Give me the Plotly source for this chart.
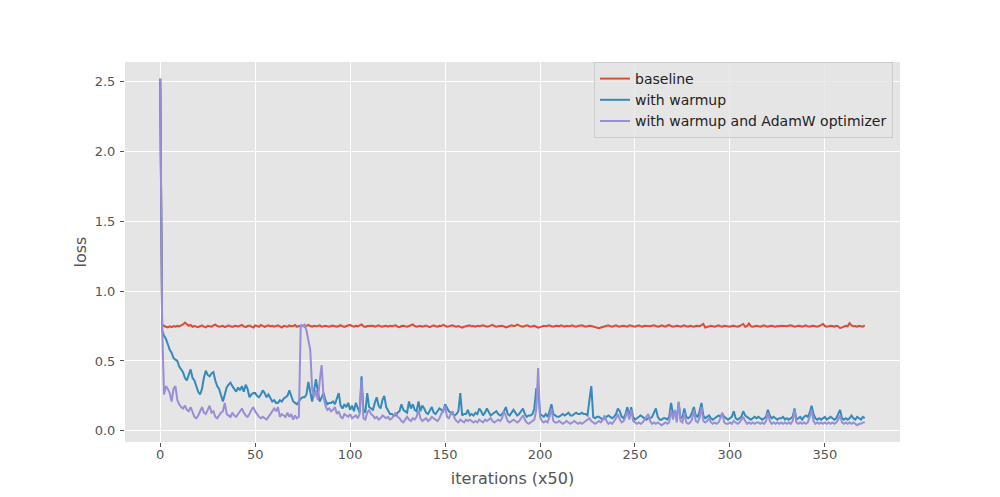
import plotly.graph_objects as go

# loss per logged step (one point every 50 iterations)
baseline = [
    2.52, 0.76, 0.75, 0.745, 0.74, 0.748, 0.742, 0.75, 0.745, 0.752,
    0.748, 0.755, 0.762, 0.775, 0.76, 0.752, 0.758, 0.745, 0.75, 0.748,
    0.742, 0.75, 0.755, 0.746, 0.74, 0.752, 0.748, 0.745, 0.755, 0.76,
    0.75, 0.745, 0.748, 0.752, 0.742, 0.75, 0.755, 0.748, 0.744, 0.75,
    0.752, 0.746, 0.75, 0.758, 0.748, 0.742, 0.75, 0.754, 0.746, 0.74,
    0.755, 0.75, 0.745, 0.758, 0.75, 0.744, 0.75, 0.755, 0.748, 0.752,
    0.745, 0.75, 0.755, 0.748, 0.74, 0.752, 0.75, 0.745, 0.755, 0.748,
    0.75, 0.757, 0.745, 0.75, 0.748, 0.752, 0.744, 0.75, 0.758, 0.75,
    0.745, 0.752, 0.748, 0.75, 0.755, 0.745, 0.75, 0.752, 0.748, 0.745,
    0.75, 0.754, 0.748, 0.745, 0.75, 0.756, 0.748, 0.744, 0.75, 0.752,
    0.758, 0.75, 0.745, 0.752, 0.748, 0.755, 0.762, 0.748, 0.744, 0.75,
    0.75, 0.748, 0.752, 0.745, 0.75, 0.755, 0.748, 0.745, 0.75, 0.752,
    0.745, 0.752, 0.748, 0.75, 0.755, 0.746, 0.742, 0.75, 0.752, 0.748,
    0.745, 0.75, 0.756, 0.762, 0.75, 0.745, 0.748, 0.752, 0.745, 0.75,
    0.754, 0.748, 0.742, 0.75, 0.755, 0.748, 0.745, 0.752, 0.75, 0.758,
    0.75, 0.745, 0.748, 0.752, 0.756, 0.748, 0.745, 0.75, 0.742, 0.738,
    0.745, 0.75, 0.752, 0.755, 0.748, 0.75, 0.745, 0.752, 0.748, 0.75,
    0.755, 0.75, 0.745, 0.748, 0.752, 0.758, 0.75, 0.745, 0.748, 0.75,
    0.752, 0.748, 0.74, 0.745, 0.75, 0.755, 0.75, 0.752, 0.76, 0.752,
    0.748, 0.745, 0.75, 0.756, 0.75, 0.745, 0.748, 0.752, 0.745, 0.738,
    0.742, 0.75, 0.752, 0.748, 0.75, 0.755, 0.748, 0.745, 0.75, 0.752,
    0.748, 0.755, 0.75, 0.745, 0.752, 0.748, 0.75, 0.755, 0.748, 0.745,
    0.75, 0.752, 0.756, 0.75, 0.745, 0.748, 0.752, 0.75, 0.745, 0.742,
    0.738, 0.735, 0.74, 0.745, 0.75, 0.752, 0.755, 0.748, 0.745, 0.75,
    0.755, 0.748, 0.745, 0.75, 0.752, 0.748, 0.745, 0.755, 0.75, 0.748,
    0.745, 0.75, 0.755, 0.748, 0.745, 0.752, 0.75, 0.745, 0.748, 0.752,
    0.755, 0.75, 0.745, 0.748, 0.755, 0.75, 0.745, 0.752, 0.758, 0.75,
    0.745, 0.748, 0.752, 0.75, 0.745, 0.75, 0.755, 0.748, 0.745, 0.752,
    0.748, 0.745, 0.75, 0.752, 0.748, 0.755, 0.765, 0.74, 0.745, 0.75,
    0.752, 0.748, 0.745, 0.75, 0.755, 0.748, 0.745, 0.752, 0.75, 0.748,
    0.745, 0.75, 0.752, 0.748, 0.745, 0.75, 0.755, 0.765, 0.745, 0.75,
    0.768, 0.748, 0.745, 0.75, 0.752, 0.748, 0.745, 0.75, 0.755, 0.748,
    0.745, 0.75, 0.752, 0.748, 0.745, 0.75, 0.748, 0.752, 0.75, 0.745,
    0.748, 0.752, 0.755, 0.75, 0.745, 0.748, 0.752, 0.75, 0.745, 0.75,
    0.755, 0.748, 0.745, 0.75, 0.752, 0.748, 0.745, 0.75, 0.755, 0.765,
    0.75, 0.745, 0.748, 0.752, 0.75, 0.745, 0.752, 0.748, 0.735, 0.742,
    0.75, 0.752, 0.748, 0.77, 0.755, 0.748, 0.75, 0.745, 0.752, 0.748,
    0.745, 0.755,
]

warmup = [
    2.52, 0.72, 0.68, 0.66, 0.62, 0.58, 0.56, 0.52, 0.51, 0.50,
    0.46, 0.44, 0.42, 0.38, 0.36, 0.40, 0.44, 0.38, 0.36, 0.32,
    0.28, 0.26, 0.30, 0.38, 0.43, 0.40, 0.39, 0.41, 0.42, 0.36,
    0.32, 0.30, 0.26, 0.21, 0.26, 0.31, 0.33, 0.345, 0.32, 0.30,
    0.28, 0.31, 0.29, 0.32, 0.28, 0.33, 0.30, 0.24, 0.26, 0.27,
    0.27, 0.25, 0.24, 0.26, 0.29, 0.27, 0.24, 0.26, 0.23, 0.21,
    0.22, 0.20, 0.20, 0.22, 0.21, 0.23, 0.24, 0.25, 0.29, 0.24,
    0.21, 0.20, 0.19, 0.21, 0.23, 0.24, 0.24, 0.26, 0.35, 0.28,
    0.21, 0.29, 0.37, 0.28, 0.21, 0.24, 0.27, 0.22, 0.19, 0.20,
    0.20, 0.21, 0.19, 0.23, 0.27, 0.18, 0.16, 0.19, 0.17, 0.20,
    0.15, 0.18, 0.14, 0.20, 0.16, 0.13, 0.39, 0.15, 0.13, 0.27,
    0.17, 0.16, 0.15, 0.20, 0.24, 0.18, 0.16, 0.22, 0.25, 0.17,
    0.14, 0.12, 0.12, 0.11, 0.11, 0.13, 0.14, 0.19, 0.15, 0.14,
    0.13, 0.21, 0.16, 0.19, 0.15, 0.14, 0.21, 0.14, 0.18, 0.16,
    0.13, 0.12, 0.15, 0.17, 0.13, 0.12, 0.14, 0.16, 0.15, 0.14,
    0.19, 0.16, 0.14, 0.13, 0.12, 0.11, 0.12, 0.14, 0.27, 0.11,
    0.12, 0.12, 0.15, 0.11, 0.12, 0.11, 0.13, 0.12, 0.16, 0.14,
    0.11, 0.13, 0.16, 0.13, 0.11, 0.12, 0.13, 0.14, 0.12, 0.11,
    0.12, 0.14, 0.17, 0.12, 0.11, 0.13, 0.15, 0.13, 0.11, 0.12,
    0.14, 0.16, 0.12, 0.10, 0.11, 0.11, 0.12, 0.16, 0.30, 0.30,
    0.12, 0.11, 0.10, 0.12, 0.10, 0.14, 0.19, 0.12, 0.11, 0.10,
    0.10, 0.11, 0.12, 0.11, 0.12, 0.13, 0.11, 0.11, 0.12, 0.13,
    0.12, 0.12, 0.13, 0.12, 0.12, 0.11, 0.22, 0.32, 0.10, 0.09,
    0.10, 0.10, 0.09, 0.08, 0.09, 0.10, 0.11, 0.10, 0.09, 0.10,
    0.12, 0.16, 0.14, 0.10, 0.09, 0.12, 0.17, 0.10, 0.17, 0.10,
    0.08, 0.09, 0.10, 0.11, 0.10, 0.09, 0.08, 0.09, 0.09, 0.10,
    0.13, 0.16, 0.10, 0.08, 0.08, 0.09, 0.09, 0.08, 0.10, 0.20,
    0.12, 0.14, 0.09, 0.20, 0.09, 0.10, 0.16, 0.10, 0.09, 0.10,
    0.13, 0.17, 0.11, 0.10, 0.14, 0.20, 0.11, 0.09, 0.10, 0.11,
    0.09, 0.08, 0.09, 0.10, 0.11, 0.10, 0.12, 0.10, 0.09, 0.08,
    0.09, 0.10, 0.14, 0.09, 0.08, 0.09, 0.10, 0.14, 0.11, 0.10,
    0.09, 0.08, 0.09, 0.10, 0.09, 0.10, 0.09, 0.08, 0.09, 0.10,
    0.15, 0.11, 0.09, 0.10, 0.09, 0.08, 0.09, 0.09, 0.10, 0.08,
    0.09, 0.08, 0.09, 0.10, 0.16, 0.08, 0.09, 0.10, 0.08, 0.10,
    0.11, 0.10, 0.13, 0.18, 0.12, 0.09, 0.08, 0.09, 0.08, 0.09,
    0.10, 0.08, 0.09, 0.10, 0.09, 0.08, 0.09, 0.12, 0.15, 0.09,
    0.08, 0.09, 0.08, 0.09, 0.11, 0.09, 0.08, 0.10, 0.09, 0.08,
    0.10, 0.09,
]

warmup_adamw = [
    2.52, 0.75, 0.26, 0.32, 0.30, 0.27, 0.21, 0.30, 0.32, 0.22,
    0.19, 0.17, 0.16, 0.18, 0.15, 0.14, 0.17, 0.13, 0.10, 0.09,
    0.11, 0.14, 0.17, 0.13, 0.12, 0.15, 0.18, 0.13, 0.14, 0.10,
    0.09, 0.11, 0.13, 0.14, 0.20, 0.12, 0.11, 0.10, 0.13, 0.11,
    0.10, 0.12, 0.14, 0.16, 0.13, 0.11, 0.10, 0.12, 0.15, 0.17,
    0.14, 0.12, 0.10, 0.09, 0.10, 0.09, 0.08, 0.10, 0.12, 0.14,
    0.16, 0.14, 0.17, 0.10, 0.12, 0.11, 0.10, 0.13, 0.10, 0.12,
    0.08, 0.11, 0.09, 0.10, 0.76, 0.75, 0.76, 0.72, 0.66, 0.58,
    0.30, 0.24, 0.29, 0.22, 0.36, 0.47, 0.24, 0.18, 0.15, 0.16,
    0.14, 0.15, 0.17, 0.12, 0.14, 0.10, 0.09, 0.12, 0.11, 0.10,
    0.12, 0.09, 0.10, 0.11, 0.09, 0.12, 0.36, 0.09, 0.08, 0.13,
    0.15, 0.12, 0.11, 0.09, 0.10, 0.08, 0.09, 0.11, 0.10, 0.09,
    0.10, 0.08, 0.09, 0.11, 0.13, 0.10, 0.09, 0.07, 0.06, 0.08,
    0.10, 0.08, 0.07, 0.09, 0.08, 0.10, 0.15, 0.09, 0.07, 0.08,
    0.09, 0.07, 0.08, 0.10, 0.09, 0.08, 0.07, 0.09, 0.12, 0.15,
    0.18, 0.10, 0.09, 0.12, 0.14, 0.09, 0.07, 0.06, 0.08, 0.07,
    0.06, 0.08, 0.07, 0.08, 0.07, 0.06, 0.07, 0.06, 0.08, 0.07,
    0.06, 0.08, 0.07, 0.08, 0.09, 0.07, 0.06, 0.07, 0.08, 0.07,
    0.09, 0.14, 0.10, 0.07, 0.06, 0.07, 0.08, 0.07, 0.06, 0.07,
    0.09, 0.11, 0.08, 0.06, 0.05, 0.06, 0.07, 0.08, 0.15, 0.45,
    0.10, 0.07, 0.06, 0.07, 0.06, 0.10, 0.16, 0.07, 0.06, 0.06,
    0.07, 0.06, 0.05, 0.06, 0.07, 0.06, 0.05, 0.06, 0.07, 0.06,
    0.05, 0.06, 0.05, 0.06, 0.07, 0.08, 0.09, 0.07, 0.06, 0.05,
    0.06, 0.07, 0.06, 0.08, 0.11, 0.07, 0.05, 0.06, 0.05, 0.07,
    0.09, 0.12, 0.08, 0.06, 0.07, 0.10, 0.14, 0.08, 0.15, 0.07,
    0.06, 0.05, 0.06, 0.05, 0.06, 0.08, 0.10, 0.12, 0.07, 0.05,
    0.06, 0.05, 0.06, 0.05, 0.04, 0.05, 0.06, 0.05, 0.06, 0.15,
    0.08, 0.15, 0.06, 0.21, 0.07, 0.06, 0.13, 0.06, 0.05, 0.06,
    0.08, 0.15, 0.07, 0.06, 0.09, 0.17, 0.07, 0.06, 0.07, 0.09,
    0.06, 0.05, 0.06, 0.05, 0.06, 0.09, 0.13, 0.06, 0.05, 0.05,
    0.06, 0.05, 0.07, 0.06, 0.05, 0.06, 0.08, 0.10, 0.07, 0.05,
    0.06, 0.05, 0.06, 0.05, 0.06, 0.06, 0.05, 0.06, 0.05, 0.07,
    0.13, 0.07, 0.05, 0.06, 0.05, 0.06, 0.05, 0.06, 0.05, 0.06,
    0.05, 0.06, 0.05, 0.07, 0.15, 0.06, 0.05, 0.06, 0.05, 0.06,
    0.05, 0.06, 0.10, 0.15, 0.07, 0.05, 0.06, 0.05, 0.06, 0.05,
    0.06, 0.05, 0.06, 0.05, 0.06, 0.05, 0.06, 0.08, 0.11, 0.06,
    0.05, 0.06, 0.05, 0.06, 0.05, 0.06, 0.05, 0.04, 0.05, 0.05,
    0.06, 0.06,
]

steps = list(range(len(warmup)))

fig = go.Figure()
fig.add_trace(go.Scatter(x=steps, y=baseline, name='baseline', mode='lines',
                         line=dict(color='#E24A33', width=2)))
fig.add_trace(go.Scatter(x=steps, y=warmup, name='with warmup', mode='lines',
                         line=dict(color='#348ABD', width=2)))
fig.add_trace(go.Scatter(x=steps, y=warmup_adamw, name='with warmup and AdamW optimizer',
                         mode='lines', line=dict(color='#988ED5', width=2)))

axis_style = dict(showgrid=True, gridcolor='white', gridwidth=1, zeroline=False,
                  showline=False, ticks='outside', tickcolor='#555555', ticklen=4,
                  tickfont=dict(size=13, color='#555555'))

# page body adds ~8px offset, margins compensate for it
fig.update_layout(
    width=1000, height=497,
    margin=dict(l=117, r=108, t=54, b=63),
    paper_bgcolor='white', plot_bgcolor='#E5E5E5',
    font=dict(family='DejaVu Sans', color='#555555'),
    showlegend=True,
    legend=dict(x=0.991, y=1.0, xanchor='right', yanchor='top',
                bgcolor='rgba(229,229,229,0.8)', bordercolor='#CCCCCC', borderwidth=1,
                font=dict(size=14, color='#222222')),
    xaxis=dict(range=[-18.55, 389.55], tickvals=[0, 50, 100, 150, 200, 250, 300, 350],
               ticklabelstandoff=-4,
               title=dict(text='iterations (x50)', font=dict(size=16, color='#555555'),
                          standoff=12),
               **axis_style),
    yaxis=dict(range=[-0.08, 2.64], tickvals=[0.0, 0.5, 1.0, 1.5, 2.0, 2.5],
               tickformat='.1f', ticklabelstandoff=2,
               title=dict(text='loss', font=dict(size=16, color='#555555'), standoff=4),
               **axis_style),
)

fig.write_html("out.html")
